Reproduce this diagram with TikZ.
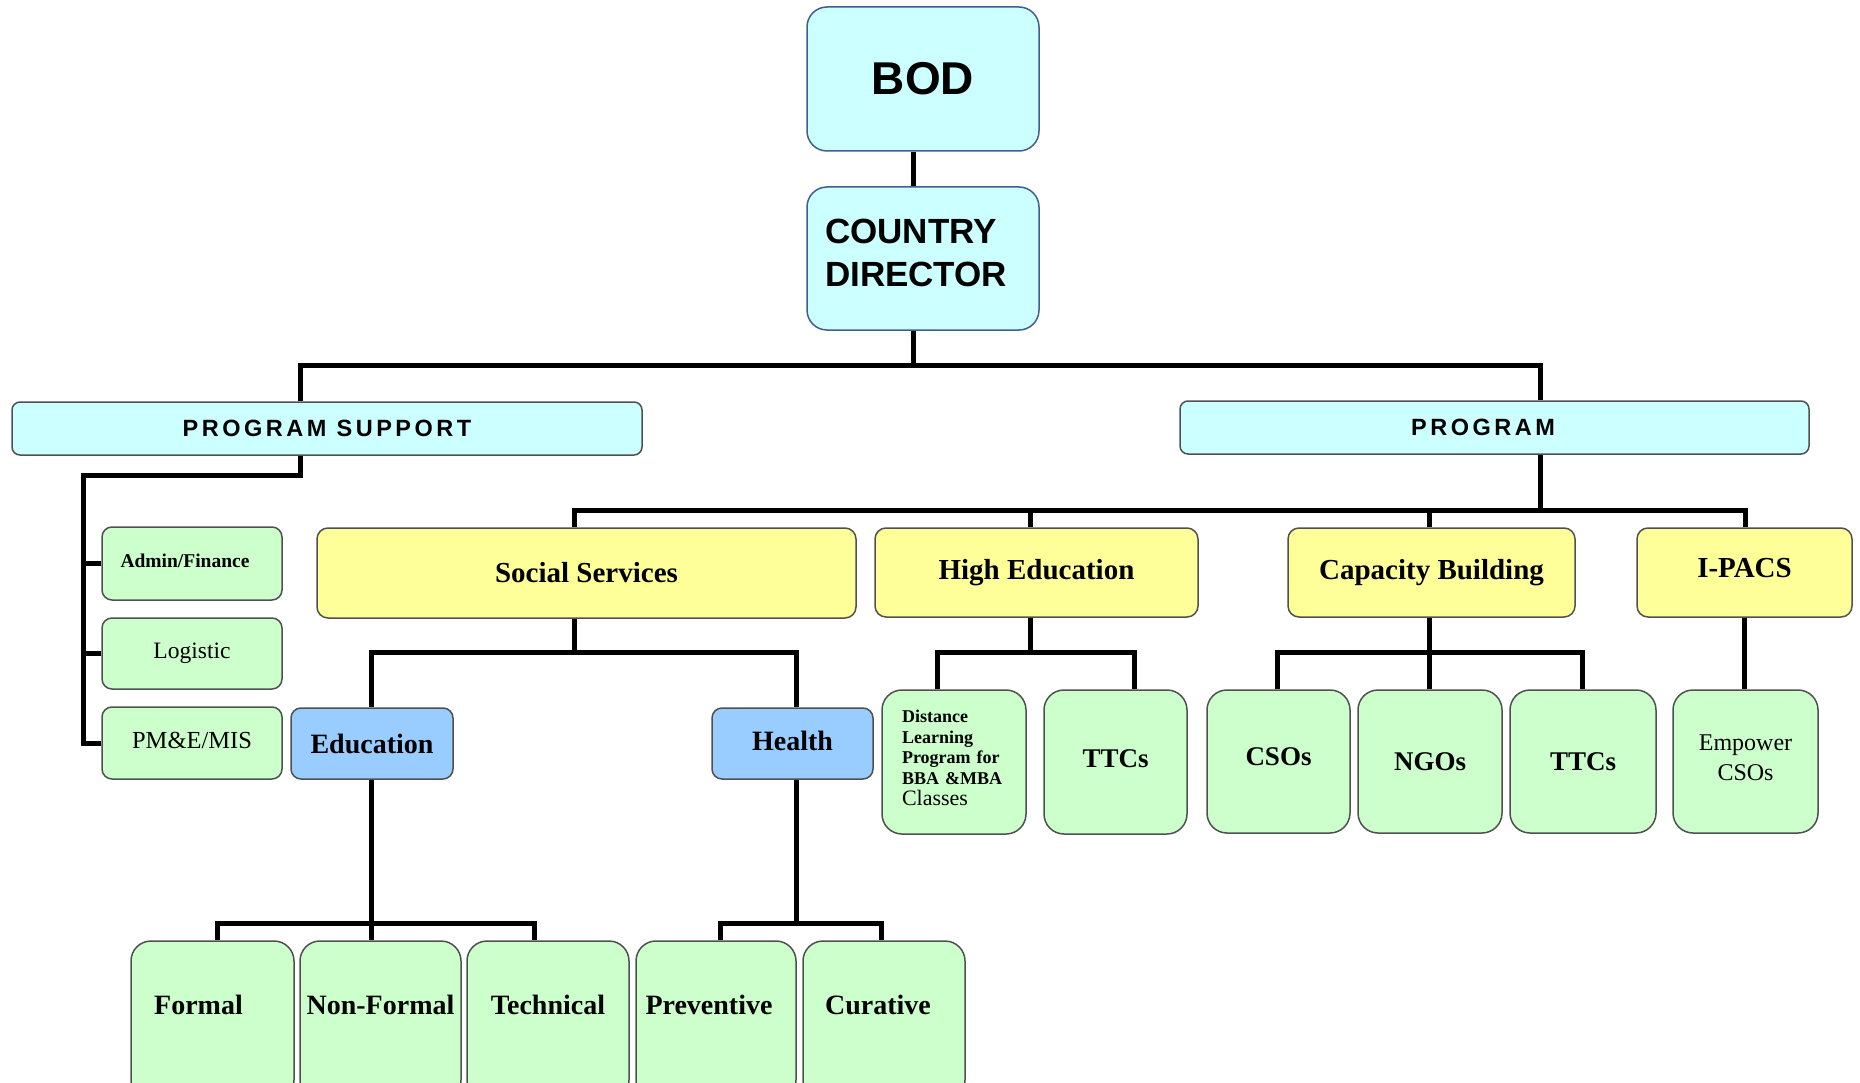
\documentclass[tikz,border=0pt]{standalone}
\usepackage{fontspec}
\setmainfont{Liberation Serif}
\newfontfamily\arialfont{Liberation Sans}
\usetikzlibrary{calc}
\definecolor{cyanfill}{HTML}{CCFFFF}
\definecolor{yellowfill}{HTML}{FFFF99}
\definecolor{greenfill}{HTML}{CCFFCC}
\definecolor{bluefill}{HTML}{99CCFF}
\definecolor{topborder}{HTML}{3F5F8F}
\definecolor{boxborder}{HTML}{505050}
\tikzset{
  box/.style={draw=boxborder, line width=1.5pt, inner sep=0pt, align=center, text=black},
  cyanbox/.style={box, fill=cyanfill},
  topbox/.style={box, fill=cyanfill, draw=topborder, rounded corners=20pt},
  bandbox/.style={box, fill=cyanfill, rounded corners=8pt, font=\arialfont\bfseries\fontsize{23.5}{26}\selectfont\addfontfeature{LetterSpace=15}},
  yellowbox/.style={box, fill=yellowfill, rounded corners=11pt, font=\bfseries\fontsize{29}{32}\selectfont},
  bluebox/.style={box, fill=bluefill, rounded corners=10pt, font=\bfseries\fontsize{28}{30}\selectfont},
  smallgreen/.style={box, fill=greenfill, rounded corners=10pt},
  tallgreen/.style={box, fill=greenfill, rounded corners=20pt},
  bottombox/.style={tallgreen, minimum width=161pt, minimum height=159pt, font=\bfseries\fontsize{28}{30}\selectfont, text height=19pt, text depth=32pt},
  conn/.style={line width=5pt, black},
}
\begin{document}
\begin{tikzpicture}[x=1pt,y=-1pt]
\clip (0,0) rectangle (1860,1083);
\fill[white] (0,0) rectangle (1860,1083);

% ---- nodes ----
\node[topbox, minimum width=232pt, minimum height=144pt, font=\arialfont\bfseries\fontsize{46}{50}\selectfont] (bod) at (923,79) {BOD};
\node[topbox, minimum width=232pt, minimum height=143pt, align=left, text width=196pt, font=\arialfont\bfseries\fontsize{35}{43}\selectfont] (cd) at (923,258.5) {COUNTRY\\DIRECTOR\rule[-12pt]{0pt}{12pt}};

\node[bandbox, minimum width=630pt, minimum height=53pt] (ps) at (327,428.5) {PROGRAM SUPPORT};
\node[bandbox, minimum width=629pt, minimum height=53pt] (prog) at (1494.5,427.5) {\hspace*{-23pt}PROGRAM};

\node[smallgreen, minimum width=180pt, minimum height=73pt, font=\bfseries\fontsize{19.5}{21}\selectfont] (admin) at (192,563.5) {\hspace*{-14pt}Admin/Finance\rule[-6pt]{0pt}{6pt}};
\node[smallgreen, minimum width=180pt, minimum height=71pt, font=\fontsize{23.5}{25}\selectfont] (logistic) at (192,653.5) {Logistic\rule[-6pt]{0pt}{6pt}};
\node[smallgreen, minimum width=180pt, minimum height=72pt, font=\fontsize{24.5}{26}\selectfont] (pme) at (192,743) {PM\&E/MIS\rule[-6pt]{0pt}{6pt}};

\node[yellowbox, minimum width=539pt, minimum height=90pt] (ss) at (586.5,573) {Social Services};
\node[yellowbox, minimum width=323pt, minimum height=89pt] (he) at (1036.5,572.5) {High Education};
\node[yellowbox, minimum width=287pt, minimum height=89pt] (cb) at (1431.5,572.5) {Capacity Building\rule[-6pt]{0pt}{6pt}};
\node[yellowbox, minimum width=215pt, minimum height=89pt] (ipacs) at (1744.5,572.5) {I-PACS\rule[-9pt]{0pt}{9pt}};

\node[bluebox, minimum width=162pt, minimum height=71pt] (edu) at (372,743.5) {Education};
\node[bluebox, minimum width=161pt, minimum height=71pt] (health) at (792.5,743.5) {Health\rule[-6pt]{0pt}{6pt}};

\node[tallgreen, minimum width=144pt, minimum height=144pt, align=left, text width=104pt, font=\bfseries\fontsize{18}{20.5}\selectfont] (dl) at (954,762) {Distance\\Learning\\Program for\\BBA \&MBA\\[1pt]\mdseries\fontsize{22}{24}\selectfont Classes\rule[-8pt]{0pt}{8pt}};
\node[tallgreen, minimum width=143pt, minimum height=144pt, font=\bfseries\fontsize{27}{29}\selectfont] (ttca) at (1115.5,762) {TTCs\rule[-6pt]{0pt}{6pt}};
\node[tallgreen, minimum width=143pt, minimum height=143pt, font=\bfseries\fontsize{27}{29}\selectfont] (cso) at (1278.5,761.5) {CSOs\rule[-10pt]{0pt}{10pt}};
\node[tallgreen, minimum width=144pt, minimum height=143pt, font=\bfseries\fontsize{27}{29}\selectfont] (ngo) at (1430,761.5) {NGOs};
\node[tallgreen, minimum width=146pt, minimum height=143pt, font=\bfseries\fontsize{27}{29}\selectfont] (ttcb) at (1583,761.5) {TTCs};
\node[tallgreen, minimum width=145pt, minimum height=143pt, font=\fontsize{24}{30}\selectfont] (emp) at (1745.5,761.5) {Empower\\CSOs\rule[-8pt]{0pt}{8pt}};

\node[bottombox, minimum width=163pt] (formal) at (212.5,1020.5) {\hspace*{-28pt}Formal};
\node[bottombox] (nonformal) at (380.5,1020.5) {Non-Formal};
\node[bottombox, minimum width=162pt] (technical) at (548,1020.5) {Technical};
\node[bottombox, minimum width=160pt] (preventive) at (716,1020.5) {\hspace*{-14pt}Preventive};
\node[bottombox, minimum width=162pt] (curative) at (884,1020.5) {\hspace*{-12pt}Curative};

% ---- junction coordinates ----
\coordinate (j1) at (913,365);
\coordinate (j1l) at (300,365);
\coordinate (j1r) at (1540,365);
\coordinate (j2) at (300,475);
\coordinate (j2l) at (83,475);
\coordinate (j3) at (1540,510);
\coordinate (j3l) at (574,510);
\coordinate (j3r) at (1745,510);
\coordinate (xhe) at (1030,510);
\coordinate (xcb) at (1429,510);
\coordinate (j4) at (574,652);
\coordinate (j4l) at (371,652);
\coordinate (j4r) at (796,652);
\coordinate (j5) at (371,923);
\coordinate (j5l) at (217,923);
\coordinate (j5r) at (534,923);
\coordinate (j6) at (796,923);
\coordinate (j6l) at (720,923);
\coordinate (j6r) at (881,923);
\coordinate (j7) at (1030,652);
\coordinate (j7l) at (937,652);
\coordinate (j7r) at (1134,652);
\coordinate (j8) at (1429,652);
\coordinate (j8l) at (1277,652);
\coordinate (j8r) at (1582,652);

% ---- connectors ----
\draw[conn] ($(bod.south)+(-10,0)$) -- ($(cd.north)+(-10,0)$);
\draw[conn] ($(cd.south)+(-10,0)$) -- (j1);
\draw[conn] (ps.north -| j1l) -- (j1l) -- (j1r) -- (prog.north -| j1r);

\draw[conn] (ps.south -| j2) -- (j2) -- (j2l) |- (pme.west);
\draw[conn] (admin.west) -- (admin.west -| j2l);
\draw[conn] (logistic.west) -- (logistic.west -| j2l);

\draw[conn] (prog.south -| j3) -- (j3);
\draw[conn] (ss.north -| j3l) -- (j3l) -- (j3r) -- (ipacs.north -| j3r);
\draw[conn] (he.north -| xhe) -- (xhe);
\draw[conn] (cb.north -| xcb) -- (xcb);

\draw[conn] (ss.south -| j4) -- (j4);
\draw[conn] (edu.north -| j4l) -- (j4l) -- (j4r) -- (health.north -| j4r);

\draw[conn] (edu.south -| j5) -- (j5);
\draw[conn] (formal.north -| j5l) -- (j5l) -- (j5r) -- (technical.north -| j5r);
\draw[conn] (nonformal.north -| j5) -- (j5);

\draw[conn] (health.south -| j6) -- (j6);
\draw[conn] (preventive.north -| j6l) -- (j6l) -- (j6r) -- (curative.north -| j6r);

\draw[conn] (he.south -| j7) -- (j7);
\draw[conn] (dl.north -| j7l) -- (j7l) -- (j7r) -- (ttca.north -| j7r);

\draw[conn] (cb.south -| j8) -- (j8);
\draw[conn] (cso.north -| j8l) -- (j8l) -- (j8r) -- (ttcb.north -| j8r);
\draw[conn] (ngo.north -| j8) -- (j8);

\draw[conn] (ipacs.south) -- (ipacs.south |- emp.north);
\end{tikzpicture}
\end{document}
